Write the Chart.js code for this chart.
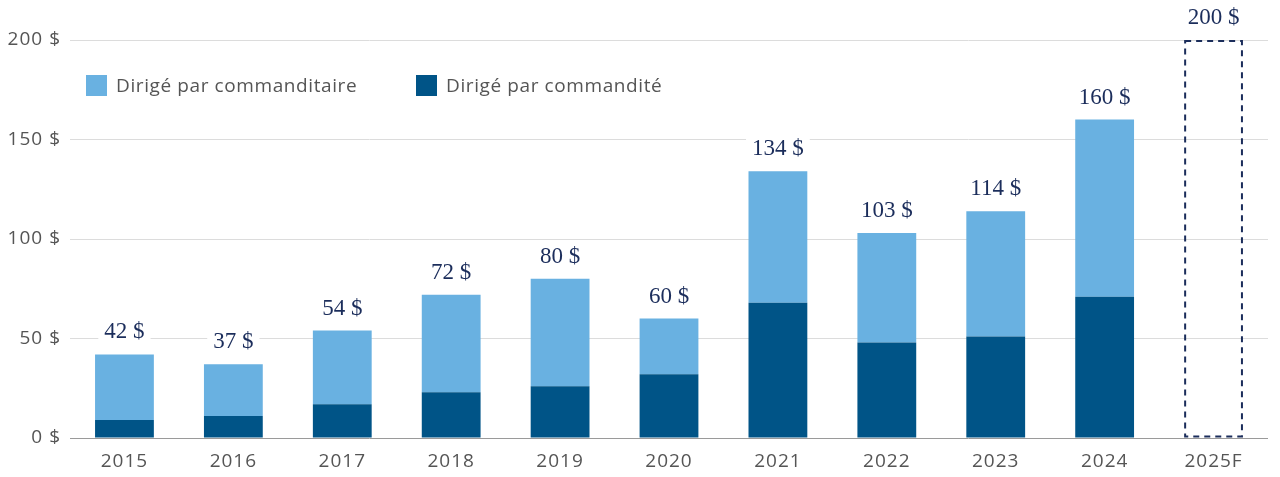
<!DOCTYPE html>
<html>
<head>
<meta charset="utf-8">
<script src="https://cdn.jsdelivr.net/npm/chart.js@4"></script>
<style>
  html, body { margin: 0; padding: 0; background: #fff; }
  #wrap { position: relative; width: 1280px; height: 477px; }
  #legend { position: absolute; top: 72px; left: 86px; font-family: "Open Sans", sans-serif; font-size: 19px; letter-spacing: 0.6px; color: #555; }
  .item { position: absolute; top: 0; white-space: nowrap; display: flex; align-items: center; }
  .box { width: 21px; height: 21px; margin-right: 9px; display: inline-block; }
</style>
</head>
<body>
<div id="wrap">
  <canvas id="chart" width="1280" height="477"></canvas>
  <div id="legend"></div>
</div>
<script>
// Données
const years = ["2015", "2016", "2017", "2018", "2019", "2020", "2021", "2022", "2023", "2024", "2025F"];
const gpLed = [9, 11, 17, 23, 26, 32, 68, 48, 51, 71, null];       // Dirigé par commandité
const lpLed = [33, 26, 37, 49, 54, 28, 66, 55, 63, 89, null];     // Dirigé par commanditaire
const totals = [42, 37, 54, 72, 80, 60, 134, 103, 114, 160, 200];
const forecast = [null, null, null, null, null, null, null, null, null, null, 200];
const yTicks = [0, 50, 100, 150, 200];

const lightBlue = "#69B1E1";
const darkBlue = "#005487";
const navy = "#1b2d5b";

// Espacement des lettres pour les libellés d'axes
const spacingPlugin = {
    id: "spacing",
    beforeDraw(chart) { chart.ctx.letterSpacing = "1px"; },
    beforeDatasetsDraw(chart) { chart.ctx.letterSpacing = "0px"; }
};

// Étiquettes des totaux + barre pointillée 2025F
const totalsPlugin = {
    id: "totals",
    afterDatasetsDraw(chart) {
        const ctx = chart.ctx;
        const yScale = chart.scales.y;
        const xScale = chart.scales.x;

        // barre pointillée
        const fMeta = chart.getDatasetMeta(2);
        fMeta.data.forEach((bar, i) => {
            if (forecast[i] == null) return;
            const left = bar.x - bar.width / 2;
            ctx.save();
            ctx.strokeStyle = navy;
            ctx.lineWidth = 2;
            ctx.setLineDash([6, 5]);
            ctx.strokeRect(left + 1, bar.y + 1, bar.width - 2, bar.base - bar.y - 2);
            ctx.restore();
        });

        ctx.save();
        ctx.letterSpacing = "0px";
        ctx.font = "23px 'Liberation Serif', serif";
        ctx.textAlign = "center";
        ctx.textBaseline = "middle";
        totals.forEach((t, i) => {
            const x = xScale.getPixelForValue(i);
            const y = yScale.getPixelForValue(t) - 23;
            const txt = t + " $";
            const w = ctx.measureText(txt).width + 12;
            ctx.fillStyle = "#fff";
            ctx.fillRect(x - w / 2, y - 12, w, 24);
            ctx.fillStyle = navy;
            ctx.fillText(txt, x, y + 1);
        });
        ctx.restore();
    }
};

const chart = new Chart(document.getElementById("chart"), {
    type: "bar",
    data: {
        labels: years,
        datasets: [
            {
                label: "Dirigé par commandité",
                data: gpLed,
                backgroundColor: darkBlue,
                stack: "s"
            },
            {
                label: "Dirigé par commanditaire",
                data: lpLed,
                backgroundColor: lightBlue,
                stack: "s"
            },
            {
                label: "Prévision",
                data: forecast,
                backgroundColor: "rgba(0,0,0,0)",
                stack: "s"
            }
        ]
    },
    options: {
        responsive: false,
        animation: false,
        layout: { padding: { top: 40, right: 12, left: 0, bottom: 0 } },
        datasets: { bar: { categoryPercentage: 1, barPercentage: 0.54 } },
        plugins: { legend: { display: false }, tooltip: { enabled: false } },
        scales: {
            x: {
                stacked: true,
                grid: { display: false, drawTicks: false },
                border: { display: false },
                ticks: { color: "#555", font: { family: "Open Sans", size: 19 }, padding: 12 },
                afterFit: s => { s.height = 39; }
            },
            y: {
                stacked: true,
                min: 0,
                max: 200,
                afterBuildTicks: s => { s.ticks = yTicks.map(v => ({ value: v })); },
                grid: {
                    drawTicks: false,
                    color: c => (c.tick && c.tick.value === 0 ? "#9a9a9a" : "#dcdcdc"),
                    lineWidth: 1
                },
                border: { display: false },
                ticks: {
                    color: "#555",
                    font: { family: "Open Sans", size: 19 },
                    padding: 9,
                    callback: v => v + " $"
                },
                afterFit: s => { s.width = 70; }
            }
        }
    },
    plugins: [spacingPlugin, totalsPlugin]
});

// Légende HTML
const legendItems = [
    { label: chart.data.datasets[1].label, color: lightBlue, left: 0 },
    { label: chart.data.datasets[0].label, color: darkBlue, left: 330 }
];
const legendEl = document.getElementById("legend");
legendItems.forEach(it => {
    const d = document.createElement("div");
    d.className = "item";
    d.style.left = it.left + "px";
    d.innerHTML = `<span class="box" style="background:${it.color}"></span><span>${it.label}</span>`;
    legendEl.appendChild(d);
});
</script>
</body>
</html>
